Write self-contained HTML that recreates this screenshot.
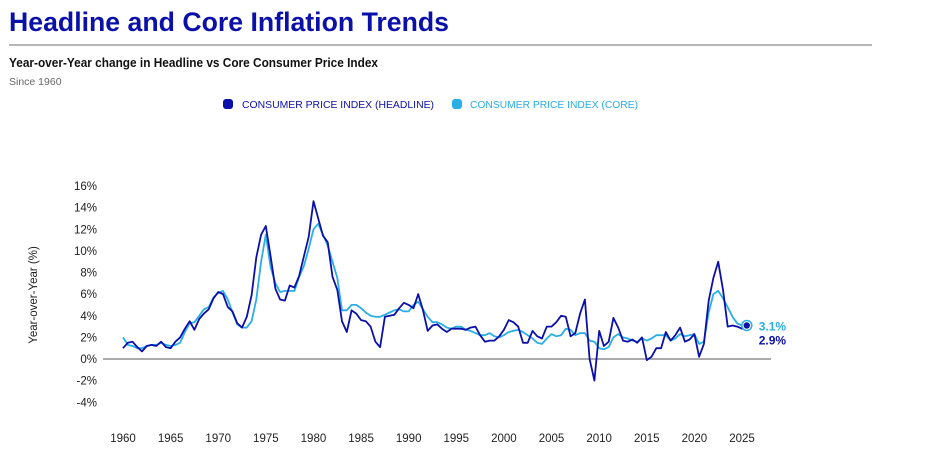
<!DOCTYPE html>
<html><head><meta charset="utf-8"><style>
html,body{margin:0;padding:0;background:#fff;}
svg{display:block;font-family:"Liberation Sans",sans-serif;}
</style></head><body>
<svg id="c" width="934" height="467" viewBox="0 0 934 467">
<text x="9" y="31" font-size="27" font-weight="bold" fill="#0b10a8" textLength="440" lengthAdjust="spacingAndGlyphs">Headline and Core Inflation Trends</text>
<line x1="9" y1="45" x2="872" y2="45" stroke="#8a8a8a" stroke-width="1.2"/>
<text x="9" y="67" font-size="12.5" font-weight="bold" fill="#111" textLength="369" lengthAdjust="spacingAndGlyphs">Year-over-Year change in Headline vs Core Consumer Price Index</text>
<text x="9" y="85" font-size="10.5" fill="#666">Since 1960</text>
<g>
<g><rect x="223" y="99" width="10" height="10" rx="3" fill="#0b10a8"/><text x="242" y="108" font-size="10.5" fill="#0b10a8" textLength="192" lengthAdjust="spacingAndGlyphs">CONSUMER PRICE INDEX (HEADLINE)</text></g>
<g><rect x="452" y="99" width="10" height="10" rx="3" fill="#2aaee6"/><text x="470" y="108" font-size="10.5" fill="#2aaee6" textLength="168" lengthAdjust="spacingAndGlyphs">CONSUMER PRICE INDEX (CORE)</text></g>
</g>
<text transform="translate(37,295) rotate(-90)" text-anchor="middle" font-size="11.5" fill="#222">Year-over-Year (%)</text>
<g id="yt"></g>
<g id="xt"></g>
<g id="plot"></g>
</svg>
<script>
const startYear = 1960;
const yTicks = [16,14,12,10,8,6,4,2,0,-2,-4];
const xTicks = [1960,1965,1970,1975,1980,1985,1990,1995,2000,2005,2010,2015,2020,2025];
const headline = [1.0,1.5,1.6,1.1,0.7,1.2,1.3,1.2,1.6,1.1,1.0,1.6,2.0,2.8,3.5,2.7,3.7,4.2,4.6,5.6,6.2,6.0,4.8,4.4,3.3,2.9,3.9,5.9,9.4,11.5,12.3,9.5,6.5,5.5,5.4,6.8,6.6,7.7,9.5,11.3,14.6,13.0,11.4,10.8,7.6,6.4,3.5,2.5,4.5,4.2,3.6,3.5,3.0,1.6,1.1,3.9,4.0,4.1,4.7,5.2,5.0,4.7,6.0,4.5,2.6,3.1,3.2,2.8,2.5,2.8,2.8,2.8,2.7,2.9,3.0,2.2,1.6,1.7,1.7,2.1,2.7,3.6,3.4,3.0,1.5,1.5,2.6,2.1,1.9,3.0,3.0,3.4,4.0,3.9,2.1,2.4,4.2,5.5,0.0,-2.0,2.6,1.2,1.6,3.8,2.9,1.7,1.6,1.8,1.5,2.0,-0.1,0.2,1.0,1.0,2.5,1.7,2.2,2.9,1.6,1.8,2.3,0.2,1.4,5.4,7.5,9.0,6.4,3.0,3.1,3.0,2.8,2.9];
const core = [2.0,1.3,1.2,1.0,1.0,1.2,1.3,1.3,1.5,1.3,1.2,1.3,1.5,2.5,3.3,3.4,4.0,4.6,4.8,5.7,6.1,6.3,5.5,4.3,3.2,2.9,2.9,3.5,5.5,9.0,11.5,8.5,7.0,6.2,6.3,6.3,6.3,7.6,8.6,10.2,12.0,12.5,11.5,10.5,9.0,7.5,4.5,4.5,5.0,5.0,4.7,4.3,4.0,3.9,3.9,4.1,4.3,4.5,4.6,4.4,4.4,5.0,5.3,4.6,3.9,3.4,3.4,3.2,2.9,2.8,3.0,3.0,2.7,2.6,2.4,2.2,2.2,2.4,2.1,2.0,2.2,2.5,2.6,2.7,2.5,2.2,1.9,1.5,1.4,1.9,2.3,2.1,2.2,2.8,2.7,2.2,2.4,2.4,1.7,1.6,1.0,0.9,1.1,2.0,2.3,2.0,1.9,1.7,1.6,1.9,1.7,1.9,2.2,2.2,2.2,1.7,1.9,2.3,2.1,2.2,2.3,1.4,1.6,4.3,6.0,6.3,5.6,4.8,3.9,3.3,3.1,3.1];
const NS='http://www.w3.org/2000/svg';
function X(yr){return 123+(yr-1960)*(742-123)/65;}
function Y(v){return 359-v*(359-186)/16;}
function mk(tag,attrs,parent,txt){const e=document.createElementNS(NS,tag);for(const k in attrs)e.setAttribute(k,attrs[k]);if(txt!==undefined)e.textContent=txt;parent.appendChild(e);return e;}
const yt=document.getElementById('yt'),xt=document.getElementById('xt'),plot=document.getElementById('plot');
yTicks.forEach(v=>{const t=mk('text',{x:97,y:Y(v)+4,'text-anchor':'end','font-size':11.5,fill:'#222'},yt,v+'%');

});
xTicks.forEach(v=>{const t=mk('text',{x:X(v),y:442,'text-anchor':'middle','font-size':11.5,fill:'#222'},xt,String(v));

});
const zl=mk('line',{x1:103,x2:771,y1:Y(0),y2:Y(0),stroke:'#555','stroke-width':1},plot);


function path(arr){return arr.map((v,i)=>(i?'L':'M')+X(startYear+i*0.5).toFixed(1)+','+Y(v).toFixed(1)).join('');}
const pc=mk('path',{d:path(core),fill:'none',stroke:'#2aaee6','stroke-width':1.8,'stroke-linejoin':'round'},plot);


const ph=mk('path',{d:path(headline),fill:'none',stroke:'#0b10a8','stroke-width':1.8,'stroke-linejoin':'round'},plot);


const li=headline.length-1, lx=X(startYear+li*0.5);
const dc=mk('circle',{cx:lx,cy:Y(core[li]),r:5,fill:'#fff',stroke:'#2aaee6','stroke-width':1.5},plot);


const dh=mk('circle',{cx:lx,cy:Y(core[li]),r:3.2,fill:'#0b10a8'},plot);


const l1=mk('text',{x:lx+12,y:Y(core[li])+5,'font-size':12,'font-weight':'bold',fill:'#2aaee6'},plot,core[li].toFixed(1)+'%');


const l2=mk('text',{x:lx+12,y:Y(core[li])+19,'font-size':12,'font-weight':'bold',fill:'#0b10a8'},plot,headline[li].toFixed(1)+'%');


</script>
</body></html>
